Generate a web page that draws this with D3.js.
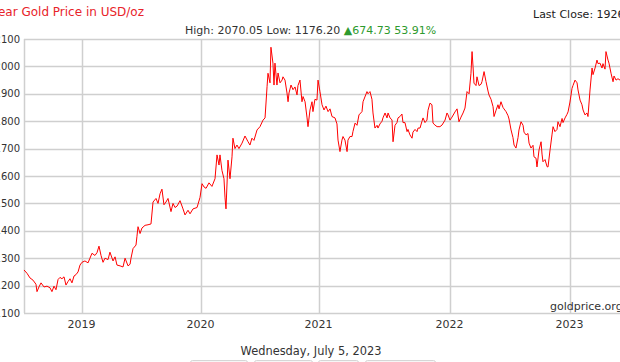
<!DOCTYPE html>
<html><head><meta charset="utf-8">
<script src="https://cdn.jsdelivr.net/npm/d3@7"></script>
<style>
html,body{margin:0;padding:0;background:#fff;overflow:hidden;}
svg{display:block;font-family:"DejaVu Sans",Verdana,sans-serif;}
</style></head>
<body><svg id="c" width="620" height="362"></svg>
<script>
// decimal-year dates
const dates = [
2018.500,2018.526,2018.552,2018.578,2018.604,2018.613,2018.630,2018.648,2018.674,2018.700,
2018.726,2018.743,2018.761,2018.778,2018.796,2018.813,2018.830,2018.848,2018.865,2018.883,
2018.900,2018.917,2018.935,2018.952,2018.970,2018.987,
2019.004,2019.029,2019.055,2019.071,2019.088,2019.113,2019.130,2019.147,2019.164,2019.181,
2019.197,2019.223,2019.239,2019.265,2019.282,2019.298,2019.324,2019.349,2019.366,2019.391,
2019.408,2019.416,2019.433,2019.458,2019.466,2019.475,2019.492,2019.508,2019.534,2019.559,
2019.584,2019.601,2019.626,2019.643,2019.660,2019.676,2019.693,2019.710,2019.727,2019.752,
2019.769,2019.786,2019.803,2019.828,2019.853,2019.870,2019.895,2019.912,2019.937,2019.971,2019.996,
2020.013,2020.030,2020.047,2020.072,2020.097,2020.123,2020.140,2020.157,2020.165,2020.182,
2020.199,2020.208,2020.216,2020.233,2020.250,2020.267,2020.275,2020.292,2020.309,2020.326,
2020.352,2020.377,2020.403,2020.419,2020.436,2020.453,2020.479,2020.504,2020.530,2020.547,
2020.564,2020.572,2020.589,2020.597,2020.614,2020.623,2020.631,2020.648,2020.657,2020.674,
2020.691,2020.699,2020.716,2020.733,2020.742,2020.750,2020.767,2020.784,2020.801,2020.818,
2020.826,2020.843,2020.860,2020.869,2020.886,2020.903,2020.911,2020.928,2020.945,2020.953,
2020.970,2020.987,2020.996,
2021.011,2021.027,2021.042,2021.057,2021.073,2021.088,2021.103,2021.126,2021.141,2021.149,
2021.164,2021.179,2021.187,2021.202,2021.218,2021.225,2021.240,2021.256,2021.263,2021.279,
2021.294,2021.309,2021.332,2021.340,2021.370,2021.378,2021.393,2021.408,2021.416,2021.431,
2021.447,2021.454,2021.469,2021.485,2021.492,2021.508,2021.523,2021.531,2021.546,2021.561,
2021.569,2021.584,2021.599,2021.607,2021.622,2021.637,2021.645,2021.660,2021.676,2021.683,
2021.698,2021.714,2021.721,2021.737,2021.752,2021.760,2021.775,2021.790,2021.798,2021.813,
2021.828,2021.836,2021.851,2021.866,2021.874,2021.889,2021.905,2021.927,2021.943,2021.966,
2021.981,2021.989,
2022.004,2022.021,2022.046,2022.063,2022.079,2022.096,2022.113,2022.129,2022.146,2022.163,
2022.179,2022.188,2022.196,2022.204,2022.221,2022.229,2022.246,2022.263,2022.271,2022.288,
2022.304,2022.321,2022.329,2022.346,2022.363,2022.371,2022.388,2022.404,2022.413,2022.429,
2022.446,2022.454,2022.471,2022.488,2022.496,2022.513,2022.529,2022.538,2022.554,2022.571,
2022.579,2022.596,2022.613,2022.621,2022.638,2022.654,2022.663,2022.679,2022.696,2022.704,
2022.721,2022.729,2022.746,2022.763,2022.771,2022.779,2022.796,2022.813,2022.821,2022.838,
2022.854,2022.863,2022.879,2022.896,2022.904,2022.921,2022.938,2022.946,2022.963,2022.979,2022.988,
2023.004,2023.021,2023.029,2023.046,2023.063,2023.071,2023.088,2023.104,2023.113,2023.129,
2023.146,2023.154,2023.171,2023.188,2023.196,2023.213,2023.229,2023.238,2023.254,2023.271,
2023.279,2023.296,2023.304,2023.321,2023.329,2023.346,2023.363,2023.371,2023.388,2023.404,
2023.421,2023.463,2023.510
];
const prices = [
1257,1245,1228,1220,1205,1178,1195,1210,1195,1198,
1192,1178,1198,1185,1222,1230,1225,1232,1202,1215,
1225,1210,1235,1240,1250,1275,
1285,1290,1283,1300,1318,1310,1320,1344,1310,1285,
1300,1295,1322,1290,1305,1275,1272,1268,1300,1272,
1278,1300,1335,1348,1380,1415,1390,1410,1420,1422,
1425,1505,1518,1500,1535,1552,1495,1505,1518,1470,
1500,1485,1490,1510,1480,1458,1475,1462,1480,1485,1522,
1572,1560,1555,1575,1562,1590,1677,1640,1677,1620,
1590,1520,1480,1658,1590,1670,1738,1700,1713,1700,
1720,1746,1725,1713,1738,1730,1768,1780,1804,1812,
1926,1975,1940,2070,2012,1932,2012,1932,1976,1940,
1950,1962,1950,1903,1871,1903,1932,1915,1925,1896,
1930,1950,1871,1890,1871,1812,1780,1841,1871,1835,
1880,1877,1950,
1908,1860,1841,1855,1835,1845,1817,1812,1790,1731,
1689,1731,1744,1731,1689,1731,1744,1744,1762,1793,
1785,1823,1835,1871,1908,1900,1908,1880,1830,1775,
1785,1775,1790,1800,1812,1830,1812,1830,1812,1805,
1725,1785,1795,1812,1817,1826,1795,1795,1762,1770,
1750,1738,1760,1770,1762,1775,1775,1800,1812,1795,
1804,1840,1866,1860,1793,1786,1780,1780,1786,1804,
1830,1823,
1804,1815,1834,1845,1798,1815,1830,1848,1908,1900,
1975,2054,2000,1939,1930,1962,1930,1935,1945,1981,
1945,1910,1896,1880,1853,1817,1840,1860,1845,1871,
1850,1845,1835,1820,1808,1768,1740,1713,1702,1740,
1768,1798,1785,1760,1750,1755,1720,1702,1712,1670,
1665,1633,1695,1725,1680,1652,1660,1634,1633,1695,
1750,1780,1762,1770,1798,1780,1810,1795,1812,1825,1834,
1870,1920,1930,1950,1940,1914,1877,1860,1841,1823,
1830,1817,1914,1994,1970,1994,2023,2010,2012,1994,
2010,1990,2054,2023,2012,1975,1944,1965,1950,1955,
1950,1935,1926
];
const yearTicks = [2019, 2020, 2021, 2022, 2023];
const yearBreaks = [2018.5, 2019, 2020, 2021, 2022, 2023, 2023.51];
const priceTicks = [1100,1200,1300,1400,1500,1600,1700,1800,1900,2000,2100];
const titleText = "5 Year Gold Price in USD/oz";
const lastCloseText = "Last Close: 1926.20";
const statsDark = "High: 2070.05 Low: 1176.20 ";
const statsGreen = "\u25B2674.73 53.91%";
const dateText = "Wednesday, July 5, 2023";
const sourceText = "goldprice.org";

const svg = d3.select("#c");
const x = d3.scaleLinear().domain(yearBreaks).range([24, 81.5, 200.5, 318.5, 449.5, 569.5, 630.7]);
const y = d3.scaleLinear().domain([1100, 2100]).range([313, 39]);

const grid = "#cfcfcf";
svg.append("g").selectAll("line").data(priceTicks).join("line")
  .attr("x1", 24).attr("x2", 640)
  .attr("y1", d => Math.round(y(d)) + 0.5).attr("y2", d => Math.round(y(d)) + 0.5)
  .attr("stroke", grid).attr("stroke-width", 1.5);
svg.append("g").selectAll("line").data(yearTicks).join("line")
  .attr("x1", d => Math.round(x(d)) + 0.5).attr("x2", d => Math.round(x(d)) + 0.5)
  .attr("y1", 39).attr("y2", 313)
  .attr("stroke", grid).attr("stroke-width", 1.5);
svg.append("line").attr("x1", 24.5).attr("x2", 24.5).attr("y1", 39).attr("y2", 313)
  .attr("stroke", grid).attr("stroke-width", 1.5);

svg.append("g").selectAll("text").data(priceTicks).join("text")
  .attr("x", 20).attr("y", d => y(d) + 3.6)
  .attr("text-anchor", "end").attr("font-size", 10).attr("fill", "#333")
  .text(d => d);
svg.append("g").selectAll("text").data(yearTicks).join("text")
  .attr("x", d => x(d)).attr("y", 327.5)
  .attr("text-anchor", "middle").attr("font-size", 11).attr("fill", "#333")
  .text(d => d);

const pts = dates.map((d, i) => [d, prices[i]]);
svg.append("path").datum(pts)
  .attr("fill", "none").attr("stroke", "#ff0000").attr("stroke-width", 1)
  .attr("stroke-linejoin", "round")
  .attr("d", d3.line().x(d => x(d[0])).y(d => y(d[1])));

svg.append("text").attr("x", 144).attr("y", 16).attr("text-anchor", "end")
  .attr("font-size", 12).attr("fill", "#e8232a").text(titleText);
svg.append("text").attr("x", 533).attr("y", 18)
  .attr("font-size", 11).attr("fill", "#222").text(lastCloseText);
const st = svg.append("text").attr("x", 185).attr("y", 34).attr("font-size", 11).attr("fill", "#333");
st.append("tspan").text(statsDark);
st.append("tspan").attr("fill", "#2e9a2e").text(statsGreen);
svg.append("text").attr("x", 550).attr("y", 310)
  .attr("font-size", 11).attr("fill", "#333").text(sourceText);
svg.append("text").attr("x", 311).attr("y", 355).attr("text-anchor", "middle")
  .attr("font-size", 11.4).attr("fill", "#333").text(dateText);

const buttons = [[190,247],[254,312],[318,358],[365,435]];
svg.append("g").selectAll("rect").data(buttons).join("rect")
  .attr("x", d => d[0] + 0.5).attr("y", 360.5).attr("width", d => d[1] - d[0]).attr("height", 10)
  .attr("rx", 2).attr("fill", "#f6f6f6").attr("stroke", "#d6d6d6");
</script></body></html>
